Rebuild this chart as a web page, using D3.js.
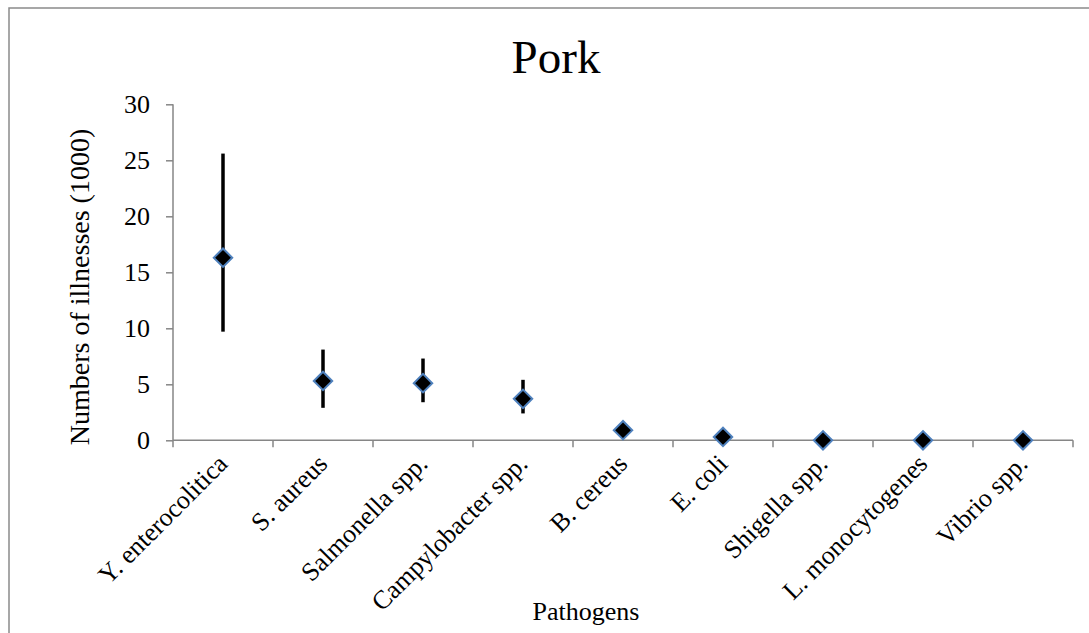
<!DOCTYPE html>
<html>
<head>
<meta charset="utf-8">
<script src="https://cdn.jsdelivr.net/npm/d3@7"></script>
<style>
  html, body { margin: 0; padding: 0; background: #fff; }
  svg { display: block; font-family: "Liberation Serif", "Times New Roman", serif; }
</style>
</head>
<body>
<svg id="chart" width="1089" height="633"></svg>
<script>
// Estimated illnesses (thousands) attributed to pork, by pathogen
const pathogens = ["Y. enterocolitica", "S. aureus", "Salmonella spp.", "Campylobacter spp.",
  "B. cereus", "E. coli", "Shigella spp.", "L. monocytogenes", "Vibrio spp."];
const meanValues = [16.3, 5.3, 5.1, 3.7, 0.9, 0.3, 0.0, 0.0, 0.0];
const lowerValues = [9.7, 2.9, 3.4, 2.4, 0.9, 0.3, 0.0, 0.0, 0.0];
const upperValues = [25.6, 8.1, 7.3, 5.4, 0.9, 0.3, 0.0, 0.0, 0.0];
const yTicks = [0, 5, 10, 15, 20, 25, 30];

const data = pathogens.map((p, i) => ({ name: p, mean: meanValues[i], lo: lowerValues[i], hi: upperValues[i] }));

const svg = d3.select("#chart");
const axisColor = "#868686";

// outer chart frame
svg.append("rect")
  .attr("x", 9).attr("y", 8).attr("width", 1200).attr("height", 700)
  .attr("fill", "none").attr("stroke", "#8a8a8a").attr("stroke-width", 1.5);

const x = d3.scaleBand().domain(pathogens).range([173, 1073]).padding(0);
const y = d3.scaleLinear().domain([0, 30]).range([440.3, 104.3]);

// title
svg.append("text").attr("x", 556).attr("y", 73)
  .attr("text-anchor", "middle").attr("font-size", 47).text("Pork");

// y axis
const yAxis = svg.append("g").attr("transform", "translate(173,0)")
  .call(d3.axisLeft(y).tickValues(yTicks).tickSize(7).tickSizeOuter(0).tickPadding(16));
yAxis.select(".domain").remove();
yAxis.selectAll(".tick line").attr("stroke", axisColor).attr("stroke-width", 1.5);
yAxis.selectAll(".tick text").attr("font-size", 26).attr("font-family", "Liberation Serif").attr("fill", "#000");
svg.append("line").attr("x1", 173).attr("x2", 173).attr("y1", y(30)).attr("y2", y(0) + 7)
  .attr("stroke", axisColor).attr("stroke-width", 1.5);

// x axis baseline and boundary ticks
svg.append("line").attr("x1", 173).attr("x2", 1073).attr("y1", y(0)).attr("y2", y(0))
  .attr("stroke", axisColor).attr("stroke-width", 1.5);
const boundaries = pathogens.map(p => x(p)).concat([x.range()[1]]);
svg.append("g").selectAll("line").data(boundaries.slice(1)).join("line")
  .attr("x1", d => d).attr("x2", d => d).attr("y1", y(0)).attr("y2", y(0) + 7)
  .attr("stroke", axisColor).attr("stroke-width", 1.5);

// rotated category labels
const xAxis = svg.append("g").attr("transform", `translate(0,${y(0)})`)
  .call(d3.axisBottom(x).tickSize(0).tickPadding(0));
xAxis.select(".domain").remove();
xAxis.selectAll(".tick text")
  .attr("font-size", 26).attr("font-family", "Liberation Serif").attr("fill", "#000")
  .attr("text-anchor", "end")
  .attr("dy", 0)
  .attr("transform", "translate(6,25) rotate(-45)");

// axis titles
svg.append("text").attr("x", 586).attr("y", 620)
  .attr("text-anchor", "middle").attr("font-size", 26).text("Pathogens");
svg.append("text")
  .attr("transform", "translate(89,287) rotate(-90)")
  .attr("text-anchor", "middle").attr("font-size", 28).text("Numbers of illnesses (1000)");

// error bars
svg.append("g").selectAll("line").data(data.filter(d => d.hi > d.lo)).join("line")
  .attr("x1", d => x(d.name) + x.bandwidth() / 2)
  .attr("x2", d => x(d.name) + x.bandwidth() / 2)
  .attr("y1", d => y(d.hi)).attr("y2", d => y(d.lo))
  .attr("stroke", "#000").attr("stroke-width", 3.5);

// diamond markers
const diamond = d3.symbol().type(d3.symbolSquare).size(170);
svg.append("g").selectAll("path").data(data).join("path")
  .attr("d", diamond)
  .attr("transform", d => `translate(${x(d.name) + x.bandwidth() / 2},${y(d.mean)}) rotate(45)`)
  .attr("fill", "#000").attr("stroke", "#4f81bd").attr("stroke-width", 2);
</script>
</body>
</html>
